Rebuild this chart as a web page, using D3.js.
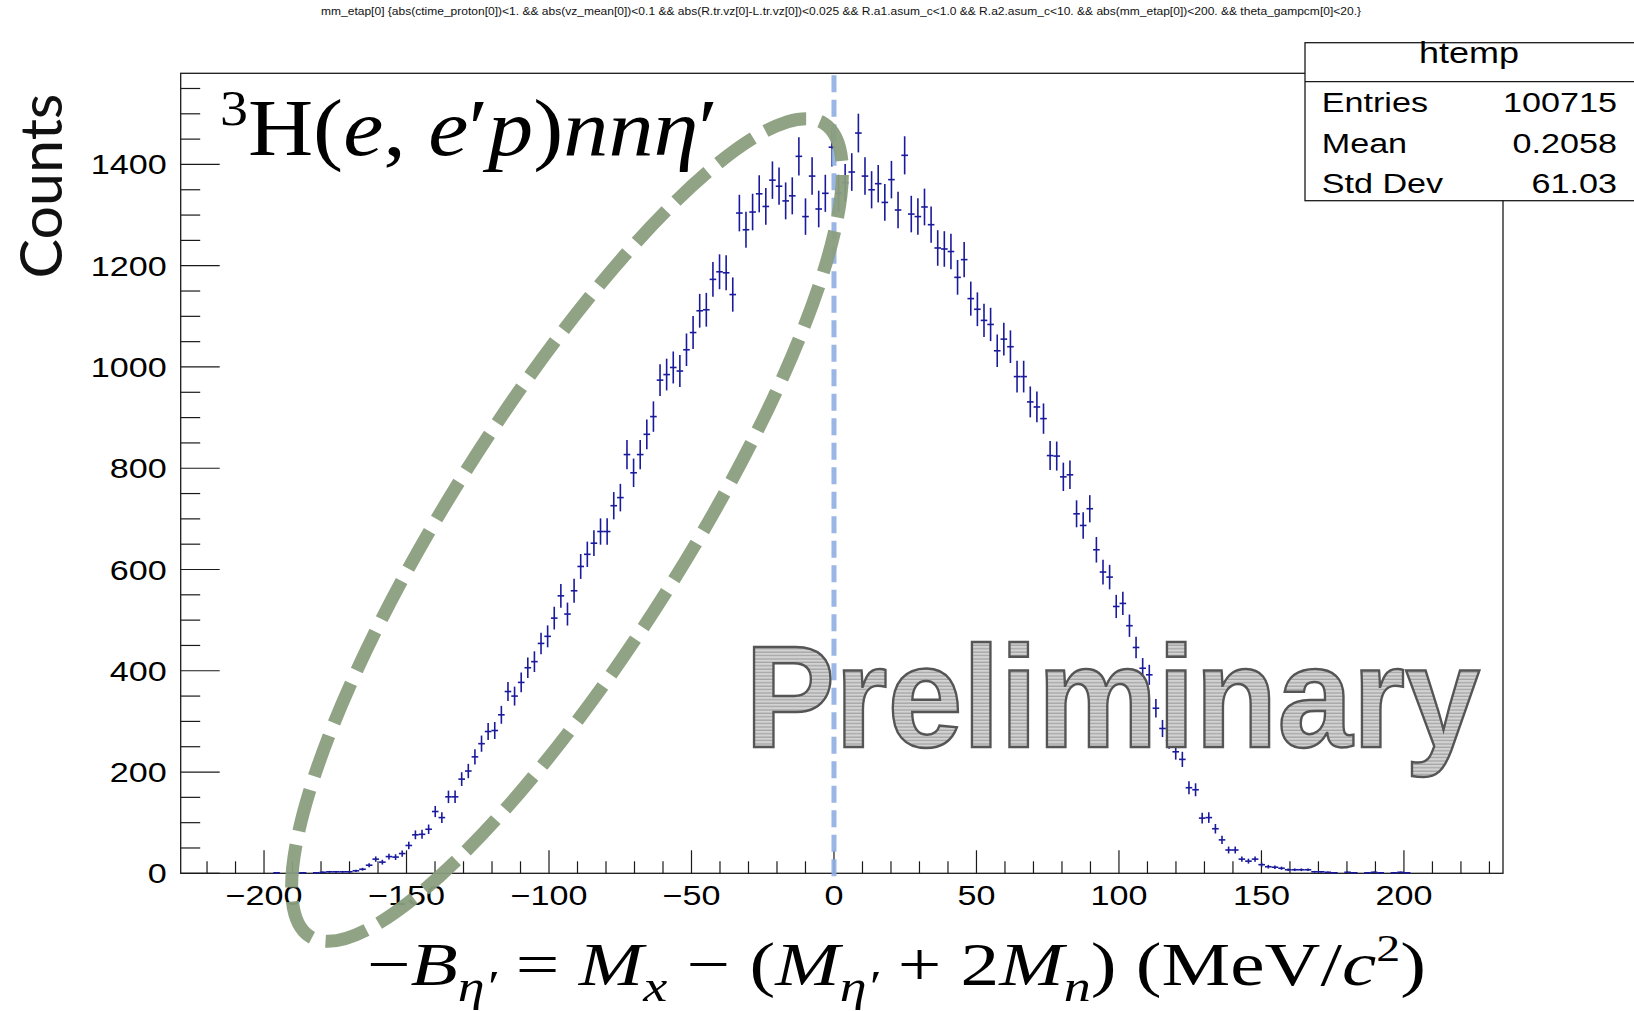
<!DOCTYPE html>
<html>
<head>
<meta charset="utf-8">
<script src="https://cdn.jsdelivr.net/npm/d3@7"></script>
<style>
body { margin: 0; background: #fff; }
text { font-family: "Liberation Sans", Arial, sans-serif; }
</style>
</head>
<body>
<svg id="canvas" width="1634" height="1011"></svg>
<script>
// histogram binning (200 bins) and bin contents
let histLow = -229.24
let binWidth = 2.32
let counts = [
    0, 0, 0, 0, 0, 0, 0, 0, 0, 0, 0, 0, 0, 0, 1, 0, 1, 1, 1, 0,
    1, 2, 3, 3, 3, 3, 5, 8, 16, 28, 22, 33, 32, 39, 55, 76, 77, 87, 122, 110,
    151, 151, 186, 202, 230, 256, 280, 282, 313, 359, 350, 377, 406, 418, 454, 468, 504, 548, 512, 558,
    606, 630, 652, 675, 675, 726, 742, 827, 791, 827, 867, 902, 974, 985, 999, 992, 1034, 1068, 1111, 1113,
    1173, 1188, 1186, 1143, 1304, 1271, 1306, 1342, 1317, 1369, 1357, 1328, 1338, 1416, 1297, 1377, 1312, 1343, 1434, 1343,
    1364, 1385, 1462, 1377, 1350, 1362, 1325, 1370, 1310, 1418, 1302, 1297, 1316, 1281, 1235, 1233, 1228, 1177, 1212, 1135,
    1114, 1092, 1084, 1032, 1055, 1040, 981, 981, 931, 921, 898, 825, 824, 783, 787, 710, 687, 720, 639, 595,
    585, 527, 533, 489, 446, 405, 392, 326, 286, 262, 240, 225, 169, 165, 109, 110, 88, 66, 46, 46,
    28, 24, 28, 17, 13, 12, 10, 7, 7, 7, 7, 3, 3, 2, 1, 0, 2, 1, 0, 1,
    2, 1, 0, 1, 2, 1, 0, 0, 0, 0, 0, 0, 0, 0, 0, 0, 0, 0, 0, 0
]
let yRange = [0, 1580]
let xMajorTicks = [-200, -150, -100, -50, 0, 50, 100, 150, 200]
let xMinorTicks = d3.range(-220, 231, 10)
let yMajorTicks = [0, 200, 400, 600, 800, 1000, 1200, 1400]
let yMinorTicks = d3.range(0, 1551, 50)

let histName = 'htemp'
let statNames = ['Entries', 'Mean', 'Std Dev']
let statValues = ['100715', '0.2058', '61.03']
let titleText = 'mm_etap[0] {abs(ctime_proton[0])<1. && abs(vz_mean[0])<0.1 && abs(R.tr.vz[0]-L.tr.vz[0])<0.025 && R.a1.asum_c<1.0 && R.a2.asum_c<10. && abs(mm_etap[0])<200. && theta_gampcm[0]<20.}'
let yTitle = 'Counts'
let stampText = 'Preliminary'

let width = 1634
let height = 1011
let frame = {left: 180.7, right: 1503, top: 73.3, bottom: 873.3}
let stretch = 1.22   // ROOT picture was pasted a bit wider than tall

let svg = d3.select('#canvas')

let xScale = d3.scaleLinear()
               .domain([histLow, histLow + binWidth * counts.length])
               .range([frame.left, frame.right])
let yScale = d3.scaleLinear()
               .domain(yRange)
               .range([frame.bottom, frame.top])

let bins = counts.map((c, i) => {
    return {lo: histLow + i * binWidth, hi: histLow + (i + 1) * binWidth, n: c}
}).filter((b) => b.n > 0)

let defs = svg.append('defs')
let stripes = defs.append('pattern')
                  .attr('id', 'stripes')
                  .attr('patternUnits', 'userSpaceOnUse')
                  .attr('width', 8)
                  .attr('height', 3.4)
stripes.append('rect').attr('width', 8).attr('height', 3.4).attr('fill', '#d3d3d3')
stripes.append('rect').attr('y', 2.1).attr('width', 8).attr('height', 1.3).attr('fill', '#a4a4a4')

// title
svg.append('g')
   .attr('transform', 'translate(841,15)')
   .append('text')
   .attr('text-anchor', 'middle')
   .attr('font-size', 10)
   .attr('textLength', 1040)
   .attr('lengthAdjust', 'spacingAndGlyphs')
   .attr('fill', '#111')
   .text(titleText)

// frame
svg.append('rect')
   .attr('x', frame.left)
   .attr('y', frame.top)
   .attr('width', frame.right - frame.left)
   .attr('height', frame.bottom - frame.top)
   .attr('fill', 'none')
   .attr('stroke', '#1a1a1a')
   .attr('stroke-width', 1.3)

// x ticks
svg.selectAll('.xtick')
   .data(xMinorTicks)
   .enter()
   .append('line')
   .attr('class', 'xtick')
   .attr('x1', (t) => xScale(t))
   .attr('x2', (t) => xScale(t))
   .attr('y1', frame.bottom)
   .attr('y2', (t) => frame.bottom - (xMajorTicks.includes(t) ? 23 : 12))
   .attr('stroke', '#1a1a1a')
   .attr('stroke-width', 1.2)

svg.selectAll('.xlabel')
   .data(xMajorTicks)
   .enter()
   .append('g')
   .attr('transform', (t) => 'translate(' + xScale(t) + ',905) scale(' + stretch + ',1)')
   .append('text')
   .attr('text-anchor', 'middle')
   .attr('font-size', 28)
   .text((t) => t < 0 ? '\u2212' + Math.abs(t) : t)

// y ticks
svg.selectAll('.ytick')
   .data(yMinorTicks)
   .enter()
   .append('line')
   .attr('class', 'ytick')
   .attr('y1', (t) => yScale(t))
   .attr('y2', (t) => yScale(t))
   .attr('x1', frame.left)
   .attr('x2', (t) => frame.left + (yMajorTicks.includes(t) ? 39 : 19.5))
   .attr('stroke', '#1a1a1a')
   .attr('stroke-width', 1.2)

svg.selectAll('.ylabel')
   .data(yMajorTicks)
   .enter()
   .append('g')
   .attr('transform', (t) => 'translate(166.7,' + (yScale(t) + 10) + ') scale(' + stretch + ',1)')
   .append('text')
   .attr('text-anchor', 'end')
   .attr('font-size', 28)
   .text((t) => t)

// data points with errors
let points = svg.append('g')
                .attr('stroke', '#1a1a9c')
                .attr('stroke-width', 1.6)
points.selectAll('.hbar')
      .data(bins)
      .enter()
      .append('line')
      .attr('x1', (b) => xScale(b.lo))
      .attr('x2', (b) => xScale(b.hi))
      .attr('y1', (b) => yScale(b.n))
      .attr('y2', (b) => yScale(b.n))
points.selectAll('.vbar')
      .data(bins)
      .enter()
      .append('line')
      .attr('x1', (b) => xScale((b.lo + b.hi) / 2))
      .attr('x2', (b) => xScale((b.lo + b.hi) / 2))
      .attr('y1', (b) => yScale(b.n - Math.sqrt(b.n)))
      .attr('y2', (b) => yScale(b.n + Math.sqrt(b.n)))

// stats box
let box = svg.append('g')
box.append('rect')
   .attr('x', 1305)
   .attr('y', 42.7)
   .attr('width', 340)
   .attr('height', 158)
   .attr('fill', '#fff')
   .attr('stroke', '#1a1a1a')
   .attr('stroke-width', 1.3)
box.append('line')
   .attr('x1', 1305).attr('x2', 1640)
   .attr('y1', 81.7).attr('y2', 81.7)
   .attr('stroke', '#1a1a1a')
   .attr('stroke-width', 1.3)
box.append('g')
   .attr('transform', 'translate(1469,63.3) scale(' + stretch + ',1)')
   .append('text')
   .attr('text-anchor', 'middle')
   .attr('font-size', 29.5)
   .text(histName)
statNames.forEach((name, i) => {
    box.append('g')
       .attr('transform', 'translate(1321.7,' + (111.7 + i * 40.8) + ') scale(' + stretch + ',1)')
       .append('text')
       .attr('font-size', 28)
       .text(name)
    box.append('g')
       .attr('transform', 'translate(1617,' + (111.7 + i * 40.8) + ') scale(' + stretch + ',1)')
       .append('text')
       .attr('text-anchor', 'end')
       .attr('font-size', 28)
       .text(statValues[i])
})

// y title
svg.append('text')
   .attr('transform', 'translate(62,186) rotate(-90)')
   .attr('text-anchor', 'middle')
   .attr('font-size', 58)
   .attr('textLength', 185)
   .attr('lengthAdjust', 'spacingAndGlyphs')
   .attr('fill', '#111')
   .style('font-family', 'Lato, "Open Sans", "Liberation Sans", sans-serif')
   .style('font-weight', 400)
   .text(yTitle)

// reaction label
let serif = '"Liberation Serif", "DejaVu Serif", serif'
let reaction = svg.append('text')
                  .attr('x', 220)
                  .attr('y', 155)
                  .style('font-family', serif)
                  .attr('font-size', 80)
                  .attr('textLength', 498)
                  .attr('lengthAdjust', 'spacingAndGlyphs')
let reactionParts = [
    ['3', 'sup'], ['H(', 'up'], ['e', 'it'], [', ', 'up'], ['e', 'it'], ['\u2032', 'up'],
    ['p', 'it'], [')', 'up'], ['nn\u03b7', 'it'], ['\u2032', 'up']
]
let addParts = (textSel, parts, size) => {
    let shift = 0
    parts.forEach((p) => {
        let target = 0
        let fs = size
        if (p[1] === 'sup') { target = -0.38 * size; fs = 0.62 * size }
        if (p[1] === 'sub' || p[1] === 'subit') { target = 0.25 * size; fs = 0.7 * size }
        textSel.append('tspan')
               .attr('dy', target - shift)
               .attr('font-size', fs)
               .style('font-style', (p[1] === 'it' || p[1] === 'subit') ? 'italic' : 'normal')
               .text(p[0])
        shift = target
    })
}
addParts(reaction, reactionParts, 80)

// x title
let xTitle = svg.append('text')
                .attr('x', 367)
                .attr('y', 985)
                .style('font-family', serif)
                .attr('font-size', 62)
                .attr('textLength', 1059)
                .attr('lengthAdjust', 'spacingAndGlyphs')
let xTitleParts = [
    ['\u2212', 'up'], ['B', 'it'], ['\u03b7\u2032', 'subit'], [' = ', 'up'], ['M', 'it'], ['x', 'subit'],
    [' \u2212 (', 'up'], ['M', 'it'], ['\u03b7\u2032', 'subit'], [' + 2', 'up'], ['M', 'it'], ['n', 'subit'],
    [') (MeV/', 'up'], ['c', 'it'], ['2', 'sup'], [')', 'up']
]
addParts(xTitle, xTitleParts, 62)

// zero line
svg.append('line')
   .attr('x1', xScale(0)).attr('x2', xScale(0))
   .attr('y1', frame.top + 2).attr('y2', frame.bottom + 3)
   .attr('stroke', '#8fafe2')
   .attr('stroke-width', 5)
   .attr('stroke-dasharray', '17,7.5')
   .attr('opacity', 0.9)

// highlighted region
svg.append('ellipse')
   .attr('cx', 567).attr('cy', 530)
   .attr('rx', 481).attr('ry', 117)
   .attr('transform', 'rotate(-57.7,567,530)')
   .attr('fill', 'none')
   .attr('stroke', '#8a9e7e')
   .attr('stroke-width', 13)
   .attr('stroke-dasharray', '43,14')
   .attr('opacity', 0.95)

// stamp
svg.append('text')
   .attr('x', 745)
   .attr('y', 747)
   .attr('font-size', 144)
   .attr('font-weight', 'bold')
   .attr('textLength', 735)
   .attr('lengthAdjust', 'spacingAndGlyphs')
   .attr('fill', 'url(#stripes)')
   .attr('stroke', '#555')
   .attr('stroke-width', 2.5)
   .text(stampText)
</script>
</body>
</html>
